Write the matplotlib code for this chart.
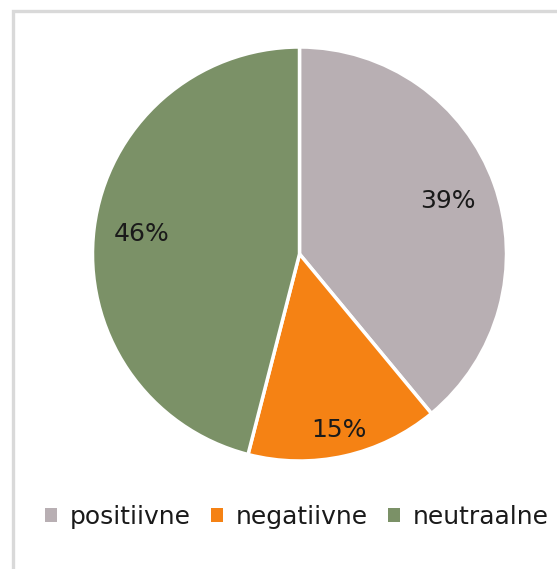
import matplotlib.pyplot as plt
import matplotlib.patches as patches
import numpy as np

# data
labels = ['positiivne', 'negatiivne', 'neutraalne']
shares = [39, 15, 46]
colors = ['#b8afb3', '#f58214', '#7b9167']
label_radius = [0.76, 0.87, 0.77]

W, H = 557, 569
fig = plt.figure(figsize=(W / 100, H / 100), dpi=100)

# chart area frame (cut off at the right and bottom)
fig.add_artist(patches.Rectangle((12.5 / W, -0.1), 1.2, (H - 10.5) / H + 0.1, transform=fig.transFigure,
                                 fill=False, edgecolor='#d9d9d9', linewidth=2.4))

cx, cy, r = 299.5, 254, 207
ax = fig.add_axes([(cx - r) / W, (H - cy - r) / H, 2 * r / W, 2 * r / H])
wedges, texts, autotexts = ax.pie(shares, colors=colors, startangle=90, counterclock=False,
                                  autopct='%1.0f%%', radius=1,
                                  wedgeprops=dict(edgecolor='white', linewidth=2.5),
                                  textprops=dict(fontsize=18, color='#1a1a1a'))
ax.set_xlim(-1, 1)
ax.set_ylim(-1, 1)
ax.set_aspect('equal')

# move labels along slice middle
for w, t, rr in zip(wedges, autotexts, label_radius):
    ang = np.deg2rad((w.theta1 + w.theta2) / 2)
    t.set_position((rr * np.cos(ang), rr * np.sin(ang)))

fig.legend(wedges, labels, loc='center', bbox_to_anchor=(0.533, 1 - 517 / H), ncol=3, frameon=False,
           fontsize=18, handlelength=0.5, handleheight=0.5, handletextpad=0.5, columnspacing=0.8,
           labelcolor='#1a1a1a')
for h in fig.legends[0].legend_handles:
    h.set_edgecolor('none')

fig.savefig('out.png', dpi=100)
